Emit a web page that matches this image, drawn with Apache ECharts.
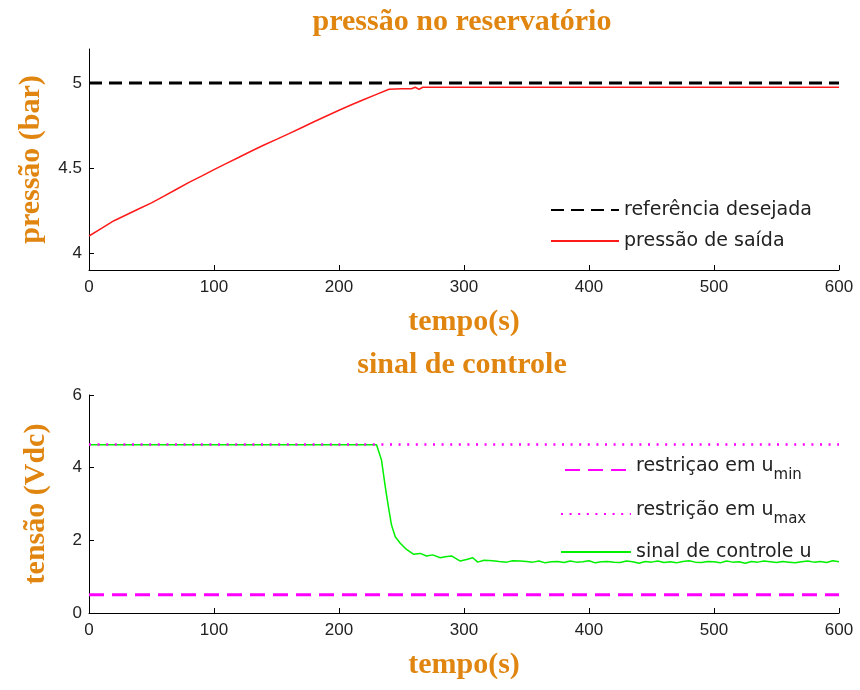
<!DOCTYPE html>
<html>
<head>
<meta charset="utf-8">
<script src="https://cdn.jsdelivr.net/npm/echarts@6/dist/echarts.min.js"></script>
<style>
  html, body { margin: 0; padding: 0; background: #fff; }
  #chart { width: 860px; height: 690px; }
</style>
</head>
<body>
<div id="chart"></div>
<script>
// ---- tank pressure (bar) ----
const pressureTime = [0, 10, 20, 30, 40, 50, 60, 70, 80, 90, 100, 110, 120, 130, 140, 150,
  160, 170, 180, 190, 200, 210, 220, 230, 240, 250, 258, 261, 264, 267, 300, 400, 500, 600];
const pressureOut = [4.10, 4.145, 4.19, 4.225, 4.26, 4.295, 4.335, 4.375, 4.415, 4.452, 4.49,
  4.527, 4.563, 4.60, 4.635, 4.668, 4.702, 4.737, 4.772, 4.806, 4.84, 4.872, 4.903, 4.933, 4.963,
  4.966, 4.966, 4.975, 4.962, 4.975, 4.975, 4.975, 4.975, 4.975];
const pressureRef = 5;

// ---- control signal (Vdc) ----
const controlTime = [0, 100, 200, 230, 231, 234, 237, 239.5, 242, 245, 249, 254, 259.5, 265,
  270, 275, 281, 285, 290, 297, 302, 307, 311, 316, 323, 328, 334, 339, 345,
  350, 355, 360, 365, 370, 375, 380, 385, 390, 395, 400, 405, 410, 415, 420, 425, 430, 435,
  440, 445, 450, 455, 460, 465, 470, 475, 480, 485, 490, 495, 500, 505, 510, 515, 520, 525,
  530, 535, 540, 545, 550, 555, 560, 565, 570, 575, 580, 585, 590, 595, 600];
const controlU = [4.63, 4.63, 4.63, 4.63, 4.60, 4.21, 3.48, 2.93, 2.42, 2.10, 1.92, 1.75, 1.62, 1.64,
  1.57, 1.60, 1.52, 1.55, 1.57, 1.43, 1.47, 1.52, 1.40, 1.45, 1.44, 1.42, 1.40, 1.44, 1.43,
  1.42, 1.40, 1.43, 1.38, 1.41, 1.42, 1.39, 1.43, 1.40, 1.41, 1.44, 1.38, 1.41, 1.42, 1.40, 1.39,
  1.43, 1.41, 1.37, 1.42, 1.40, 1.43, 1.39, 1.41, 1.38, 1.42, 1.44, 1.40, 1.39, 1.42, 1.41, 1.38,
  1.43, 1.40, 1.41, 1.37, 1.42, 1.40, 1.43, 1.41, 1.39, 1.42, 1.40, 1.38, 1.41, 1.43, 1.40, 1.42,
  1.39, 1.44, 1.41];
const uMin = 0.5;
const uMax = 4.64;

const timeRange = [0, 600];
const pressureTicks = [4, 4.5, 5];

const orange = '#E0850F';
const tickFont = { fontFamily: 'Liberation Sans', fontSize: 17, color: '#222' };
const nameFont = { fontFamily: 'Liberation Serif', fontSize: 30, fontWeight: 'bold', color: orange };

const pairs = (xs, ys) => xs.map((x, i) => [x, ys[i]]);
const flat = (v) => timeRange.map(t => [t, v]);

function xAxisOf(gridIndex) {
  return {
    type: 'value', gridIndex, min: 0, max: 600, interval: 100,
    name: 'tempo(s)', nameLocation: 'middle', nameGap: 37, nameTextStyle: nameFont,
    axisLine: { lineStyle: { color: '#000', width: 1 } },
    axisTick: { inside: true, length: 5, lineStyle: { color: '#000' } },
    axisLabel: Object.assign({ margin: 9 }, tickFont),
    splitLine: { show: false }
  };
}

const legendFamily = 'DejaVu Sans';
const legendText = { fontFamily: legendFamily, fontSize: 19, color: '#222' };
const subRich = {
  t: { fontFamily: legendFamily, fontSize: 19, color: '#222', lineHeight: 20, verticalAlign: 'top' },
  s: { fontFamily: legendFamily, fontSize: 15, color: '#222', padding: [11, 0, 0, 0], verticalAlign: 'top' }
};
// line samples only, no marker in the middle
const legendItem = { opacity: 0 };

const option = {
  animation: false,
  backgroundColor: '#fff',
  title: [
    { text: 'pressão no reservatório', left: 457, top: 2, textAlign: 'center',
      textStyle: nameFont },
    { text: 'sinal de controle', left: 457, top: 345, textAlign: 'center',
      textStyle: nameFont }
  ],
  grid: [
    { left: 89, right: 21, top: 49, height: 221 },
    { left: 89, right: 21, top: 395, height: 218 }
  ],
  xAxis: [xAxisOf(0), xAxisOf(1)],
  yAxis: [
    {
      type: 'value', gridIndex: 0, min: 3.9, max: 5.2,
      name: 'pressão (bar)', nameLocation: 'middle', nameGap: 43, nameRotate: 90, nameTextStyle: nameFont,
      axisLine: { show: true, lineStyle: { color: '#000', width: 1 } },
      axisTick: { show: true, inside: true, length: 5, customValues: pressureTicks, lineStyle: { color: '#000' } },
      axisLabel: Object.assign({ margin: 7, customValues: pressureTicks }, tickFont),
      splitLine: { show: false }
    },
    {
      type: 'value', gridIndex: 1, min: 0, max: 6, interval: 2,
      name: 'tensão (Vdc)', nameLocation: 'middle', nameGap: 38, nameRotate: 90, nameTextStyle: nameFont,
      axisLine: { show: true, lineStyle: { color: '#000', width: 1 } },
      axisTick: { show: true, inside: true, length: 5, lineStyle: { color: '#000' } },
      axisLabel: Object.assign({ margin: 7 }, tickFont),
      splitLine: { show: false }
    }
  ],
  legend: [
    {
      orient: 'vertical', left: 550, top: 200, padding: 0, itemGap: 11,
      itemWidth: 68, itemHeight: 14, itemStyle: legendItem,
      textStyle: Object.assign({ lineHeight: 20 }, legendText),
      data: ['referência desejada', 'pressão de saída']
    },
    {
      left: 564, top: 457, padding: 0, itemWidth: 66, itemHeight: 14, itemStyle: legendItem,
      data: ['umin'], formatter: () => '{t|restriçao em u}{s|min}', textStyle: { rich: subRich }
    },
    {
      left: 560, top: 501, padding: 0, itemWidth: 70, itemHeight: 14, itemStyle: legendItem,
      data: ['umax'], formatter: () => '{t|restrição em u}{s|max}', textStyle: { rich: subRich }
    },
    {
      left: 560, top: 542, padding: 0, itemWidth: 70, itemHeight: 14, itemStyle: legendItem,
      data: ['sinal de controle u'], textStyle: Object.assign({ lineHeight: 20 }, legendText)
    }
  ],
  series: [
    {
      name: 'pressão de saída', type: 'line', xAxisIndex: 0, yAxisIndex: 0,
      data: pairs(pressureTime, pressureOut), symbol: 'none',
      lineStyle: { color: '#FF1A1A', width: 1.5 }, itemStyle: { color: '#FF1A1A' }, z: 2
    },
    {
      name: 'referência desejada', type: 'line', xAxisIndex: 0, yAxisIndex: 0,
      data: flat(pressureRef), symbol: 'none',
      lineStyle: { color: '#000', width: 3, type: [13, 7] }, itemStyle: { color: '#000' }, z: 3
    },
    {
      name: 'umin', type: 'line', xAxisIndex: 1, yAxisIndex: 1,
      data: flat(uMin), symbol: 'none',
      lineStyle: { color: '#FF00FF', width: 3, type: [15, 8] }, itemStyle: { color: '#FF00FF' }
    },
    {
      name: 'sinal de controle u', type: 'line', xAxisIndex: 1, yAxisIndex: 1,
      data: pairs(controlTime, controlU), symbol: 'none',
      lineStyle: { color: '#00F000', width: 1.5 }, itemStyle: { color: '#00F000' }, z: 2
    },
    {
      name: 'umax', type: 'line', xAxisIndex: 1, yAxisIndex: 1,
      data: flat(uMax), symbol: 'none',
      lineStyle: { color: '#FF00FF', width: 2.5, type: [2, 6.6] }, itemStyle: { color: '#FF00FF' }, z: 3
    }
  ]
};

const chart = echarts.init(document.getElementById('chart'), null, { renderer: 'canvas' });
chart.setOption(option);
</script>
</body>
</html>
